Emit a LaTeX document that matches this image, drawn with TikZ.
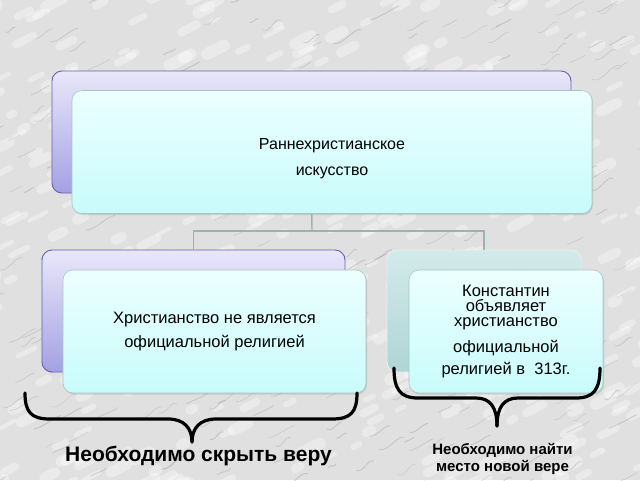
\documentclass[tikz,border=0pt]{standalone}
\usepackage{fontspec}
\setmainfont{Liberation Sans}
\usetikzlibrary{shadows}

\definecolor{marble}{HTML}{E0E0E0}
\definecolor{vein}{HTML}{909090}
\definecolor{lavtop}{HTML}{E9E7F9}
\definecolor{lavbot}{HTML}{A4A1E3}
\definecolor{lavline}{HTML}{6561B2}
\definecolor{cyantop}{HTML}{ECFFFF}
\definecolor{cyanbot}{HTML}{C9FBFB}
\definecolor{cyanline}{HTML}{A9C6C6}
\definecolor{tealtop}{HTML}{D3EAEA}
\definecolor{tealbot}{HTML}{AFD5D5}
\definecolor{tealline}{HTML}{E2F0F0}
\definecolor{connline}{HTML}{9DB3B3}

\tikzset{
  back/.style = {draw=lavline, line width=0.9pt, rounded corners=10pt,
    top color=lavtop, bottom color=lavbot, minimum height=122pt},
  tealback/.style = {back, draw=tealline, top color=tealtop, bottom color=tealbot},
  front/.style = {draw=cyanline, line width=0.6pt, rounded corners=10pt,
    top color=cyantop, bottom color=cyanbot, minimum height=123pt, align=center,
    drop shadow={opacity=0.25, shadow xshift=1pt, shadow yshift=-1.5pt}},
  conn/.style = {draw=connline, line width=1.4pt},
  brace/.style = {draw=black, line width=3.2pt, line cap=round, line join=round},
}

\begin{document}
\begin{tikzpicture}[x=1pt, y=-1pt]
\useasboundingbox (0,0) rectangle (640,480);
% marble background
\fill[marble] (0,0) rectangle (640,480);
\begin{scope}
\clip (0,0) rectangle (640,480);
\pgfmathsetseed{11}
\foreach \i in {1,...,450}{
  \pgfmathsetmacro{\vx}{rnd*680-20}
  \pgfmathsetmacro{\vy}{rnd*520-20}
  \pgfmathsetmacro{\vl}{4+rnd*14}
  \pgfmathsetmacro{\vw}{4+rnd*8}
  \draw[white, opacity=0.35, line width=\vw pt, line cap=round] (\vx,\vy) -- ++(\vl,-0.5*\vl);
}
\foreach \i in {1,...,300}{
  \pgfmathsetmacro{\vx}{rnd*680-20}
  \pgfmathsetmacro{\vy}{rnd*520-20}
  \pgfmathsetmacro{\vl}{8+rnd*22}
  \pgfmathsetmacro{\vw}{0.3+rnd*0.7}
  \pgfmathsetmacro{\vk}{rnd*10-5}
  \draw[vein, opacity=0.35, line width=\vw pt] (\vx,\vy) .. controls ++(0.4*\vl,\vk) and ++(-0.3*\vl,-\vk) .. ++(\vl,-0.5*\vl);
}
\end{scope}

% back boxes
\node[back, minimum width=519pt] (topback) at (311.5,132) {};
\node[back, minimum width=303pt] (leftback) at (193.5,311) {};
\node[tealback, minimum width=194pt] (rightback) at (484,311) {};

% connectors
\coordinate (split) at (312,231);
\draw[conn] (topback.south) -- (split);
\draw[conn] (leftback.north) |- (split) -| (rightback.north);

% front boxes
\node[front, minimum width=520pt] (topfront) at (332,152) {};
\node[font=\fontsize{16}{26}\selectfont, align=center] (toptext) at ([yshift=-7pt]topfront.center)
  {Раннехристианское\\искусство};
\node[front, minimum width=303pt, font=\fontsize{16.5}{24}\selectfont] (leftfront) at (214.5,331.5)
  {Христианство не является\\официальной религией};
\node[front, minimum width=194pt, font=\fontsize{16.5}{15}\selectfont] (rightfront) at (506,331.5)
  {Константин\\объявляет\\христианство\\[9pt]официальной\\[5pt]религией в\ \ 313г.};

% braces
\coordinate (lefttip) at (192,442);
\coordinate (righttip) at (497,426);
\draw[brace] (25,393) .. controls (25,412) and (31,419) .. (50,419) -- (168,419)
  .. controls (184,419) and (192,428) .. (lefttip);
\draw[brace] (357,393) .. controls (357,412) and (351,419) .. (332,419) -- (216,419)
  .. controls (200,419) and (192,428) .. (lefttip);
\draw[brace] (394,368) .. controls (394,389) and (400,398) .. (418,398) -- (476,398)
  .. controls (490,398) and (497,407) .. (righttip);
\draw[brace] (600,368) .. controls (600,389) and (594,398) .. (576,398) -- (518,398)
  .. controls (504,398) and (497,407) .. (righttip);

% captions
\node[font=\bfseries\fontsize{21}{24}\selectfont] (hide) at (198.5,456) {Необходимо скрыть веру};
\node[font=\bfseries\fontsize{15}{16.5}\selectfont, align=center] (place) at (502.5,459)
  {Необходимо найти\\место новой вере};
\end{tikzpicture}
\end{document}
